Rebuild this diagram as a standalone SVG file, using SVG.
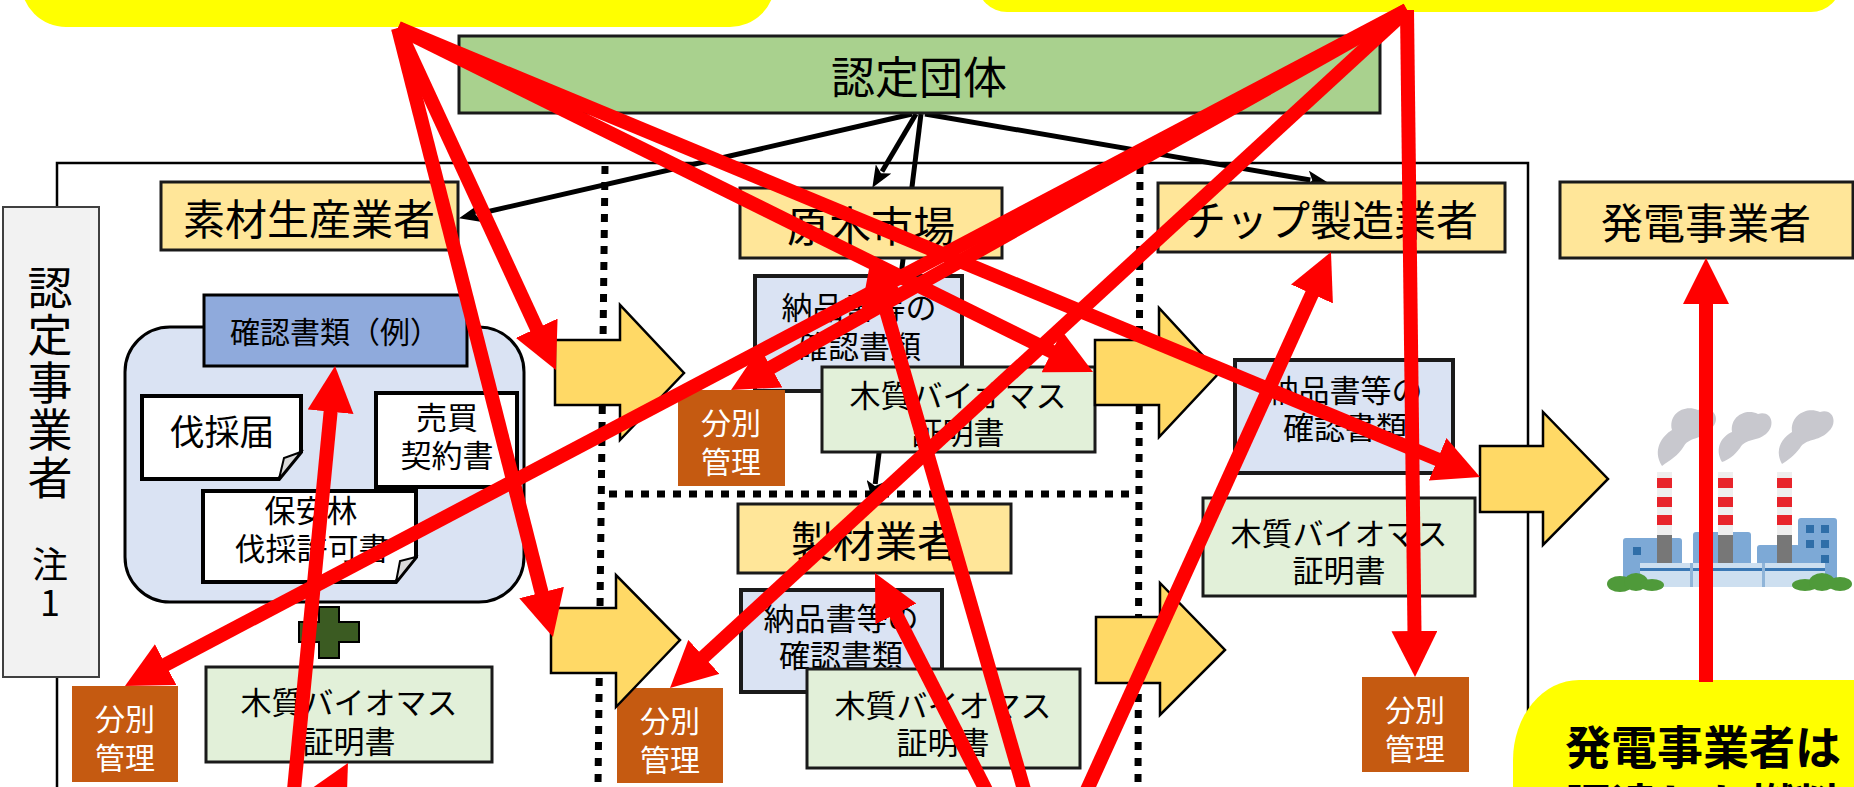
<svg xmlns="http://www.w3.org/2000/svg" width="1854" height="787" viewBox="0 0 1854 787">
  <defs>
    <style>
      text { font-family: "Noto Sans CJK JP", "Noto Sans", sans-serif; fill: #000; text-anchor: middle; dominant-baseline: central; }
      .vert { writing-mode: vertical-rl; text-orientation: upright; }
      .actor { fill: #ffe699; stroke: #1a1a1a; stroke-width: 3; }
      .doc { fill: #dae3f3; stroke: #1a1a1a; stroke-width: 4; }
      .cert { fill: #e2f0d9; stroke: #1a1a1a; stroke-width: 3; }
      .paper { fill: #ffffff; stroke: #000; stroke-width: 4; }
      .fold { fill: #d9d9d9; stroke: #000; stroke-width: 2; }
      .sep { fill: #c55a11; }
      .sep-t { fill: #ffffff; font-size: 30px; }
      .flow { fill: #ffd966; stroke: #000; stroke-width: 2.5; }
      .callout { fill: #ffff00; }
      .dots { stroke: #000; stroke-width: 7; stroke-dasharray: 8 8; fill: none; }
      .link { stroke: #000; stroke-width: 5; fill: none; marker-end: url(#blackHead); }
      .hl { stroke: #ff0000; stroke-width: 14; fill: none; marker-end: url(#redHead); }
      .t42 { font-size: 42px; }
      .t31 { font-size: 31px; }
    </style>
    <marker id="redHead" viewBox="0 0 46 46" markerUnits="userSpaceOnUse" markerWidth="46" markerHeight="46" refX="2" refY="23" orient="auto">
      <path d="M0,0 L46,23 L0,46 Z" fill="#ff0000"/>
    </marker>
    <marker id="blackHead" viewBox="0 0 22 18" markerUnits="userSpaceOnUse" markerWidth="22" markerHeight="18" refX="3" refY="9" orient="auto">
      <path d="M0,0 L22,9 L0,18 L5,9 Z" fill="#000"/>
    </marker>
  </defs>

  <rect width="1854" height="787" fill="#ffffff"/>

  <!-- callout balloons -->
  <g id="callout-left">
    <rect class="callout" x="21" y="-120" width="754" height="147" rx="45" ry="45"/>
  </g>
  <g id="callout-right">
    <rect class="callout" x="977" y="-120" width="864" height="132" rx="30" ry="30"/>
  </g>

  <!-- certified operators frame and separators -->
  <g id="frame">
    <rect x="57" y="163" width="1471" height="640" fill="none" stroke="#000" stroke-width="2.5"/>
    <line class="dots" x1="605" y1="166" x2="598" y2="786"/>
    <line class="dots" x1="1140" y1="166" x2="1138" y2="786"/>
    <line class="dots" x1="609" y1="494" x2="1136" y2="494"/>
  </g>

  <!-- certification body links -->
  <g id="links">
    <line class="link" x1="912" y1="114" x2="477.5" y2="214"/>
    <line class="link" x1="916" y1="114" x2="882" y2="171.5"/>
    <line class="link" x1="921" y1="114" x2="875.2" y2="484"/>
    <line class="link" x1="925" y1="114" x2="1310.3" y2="180"/>
  </g>

  <g id="node-body">
    <rect x="459" y="36" width="921" height="77" fill="#a9d18e" stroke="#1a1a1a" stroke-width="3"/>
    <text x="919" y="75" style="font-size:44px">認定団体</text>
  </g>

  <g id="node-operator-label">
    <rect x="3" y="207" width="96" height="470" fill="#f2f2f2" stroke="#404040" stroke-width="2"/>
    <text class="vert" x="50" y="384" style="font-size:45px;letter-spacing:2.5px">認定事業者</text>
    <text class="vert" x="50" y="584" style="font-size:36px;letter-spacing:2px">注1</text>
  </g>

  <g id="node-producer">
    <rect class="actor" x="161" y="182" width="297" height="68"/>
    <text class="t42" x="309" y="216">素材生産業者</text>
  </g>
  <g id="node-market">
    <rect class="actor" x="740" y="188" width="262" height="70"/>
    <text class="t42" x="871" y="223">原木市場</text>
  </g>
  <g id="node-chip">
    <rect class="actor" x="1158" y="183" width="347" height="69"/>
    <text class="t42" x="1331" y="217">チップ製造業者</text>
  </g>
  <g id="node-power">
    <rect class="actor" x="1560" y="182" width="293" height="76"/>
    <text class="t42" x="1706" y="220">発電事業者</text>
  </g>
  <g id="node-sawmill">
    <rect class="actor" x="738" y="504" width="273" height="69"/>
    <text class="t42" x="875" y="538">製材業者</text>
  </g>

  <!-- documents held by the log producer -->
  <g id="node-docs">
    <rect x="125" y="327" width="399" height="275" rx="45" ry="45" fill="#dae3f3" stroke="#000" stroke-width="3"/>
    <rect x="204" y="295" width="263" height="71" fill="#8faadc" stroke="#000" stroke-width="3"/>
    <text x="335" y="330" style="font-size:30px">確認書類（例）</text>
  </g>
  <g id="node-notice">
    <path class="paper" d="M142,396 H301 V452 L279,479 H142 Z"/>
    <path class="fold" d="M301,452 L279,479 L284,458 Z"/>
    <text x="222" y="429" style="font-size:35px">伐採届</text>
  </g>
  <g id="node-contract">
    <rect class="paper" x="376" y="393" width="141" height="94"/>
    <text style="font-size:31px"><tspan x="447" y="415">売買</tspan><tspan x="447" y="453">契約書</tspan></text>
  </g>
  <g id="node-permit">
    <path class="paper" d="M203,491 H416 V557 L396,582 H203 Z"/>
    <path class="fold" d="M416,557 L396,582 L400,561 Z"/>
    <text style="font-size:31px"><tspan x="311" y="508">保安林</tspan><tspan x="312" y="546">伐採許可書</tspan></text>
  </g>
  <g id="node-plus">
    <path d="M319,607 H339 V622 H359 V642 H339 V658 H319 V642 H299 V622 H319 Z" fill="#3b5b22" stroke="#000" stroke-width="2"/>
  </g>
  <g id="node-cert-1">
    <rect class="cert" x="206" y="667" width="286" height="95"/>
    <text class="t31"><tspan x="349" y="700">木質バイオマス</tspan><tspan x="349" y="739">証明書</tspan></text>
  </g>

  <!-- log market documents -->
  <g id="node-delivery-1">
    <rect class="doc" x="755" y="276" width="207" height="115"/>
    <text class="t31"><tspan x="859" y="305">納品書等の</tspan><tspan x="859" y="344">確認書類</tspan></text>
  </g>
  <g id="node-cert-2">
    <rect class="cert" x="822" y="367" width="273" height="85"/>
    <text class="t31"><tspan x="958" y="393">木質バイオマス</tspan><tspan x="958" y="430">証明書</tspan></text>
  </g>

  <!-- sawmill documents -->
  <g id="node-delivery-2">
    <rect class="doc" x="741" y="590" width="201" height="102"/>
    <text class="t31"><tspan x="841" y="616">納品書等の</tspan><tspan x="841" y="653">確認書類</tspan></text>
  </g>
  <g id="node-cert-3">
    <rect class="cert" x="807" y="669" width="273" height="99"/>
    <text class="t31"><tspan x="943" y="703">木質バイオマス</tspan><tspan x="943" y="740">証明書</tspan></text>
  </g>

  <!-- chip maker documents -->
  <g id="node-delivery-3">
    <rect class="doc" x="1235" y="360" width="218" height="113"/>
    <text class="t31"><tspan x="1345" y="388">納品書等の</tspan><tspan x="1345" y="425">確認書類</tspan></text>
  </g>
  <g id="node-cert-4">
    <rect class="cert" x="1203" y="498" width="272" height="98"/>
    <text class="t31"><tspan x="1339" y="531">木質バイオマス</tspan><tspan x="1339" y="568">証明書</tspan></text>
  </g>

  <!-- segregated management tags -->
  <g id="node-sep-1">
    <rect class="sep" x="72" y="686" width="106" height="96"/>
    <text class="sep-t"><tspan x="125" y="717">分別</tspan><tspan x="125" y="756">管理</tspan></text>
  </g>
  <g id="node-sep-2">
    <rect class="sep" x="678" y="390" width="107" height="96"/>
    <text class="sep-t"><tspan x="731" y="421">分別</tspan><tspan x="731" y="460">管理</tspan></text>
  </g>
  <g id="node-sep-3">
    <rect class="sep" x="617" y="688" width="106" height="95"/>
    <text class="sep-t"><tspan x="670" y="719">分別</tspan><tspan x="670" y="758">管理</tspan></text>
  </g>
  <g id="node-sep-4">
    <rect class="sep" x="1362" y="677" width="107" height="95"/>
    <text class="sep-t"><tspan x="1415" y="708">分別</tspan><tspan x="1415" y="747">管理</tspan></text>
  </g>

  <!-- material flow arrows -->
  <g id="flows">
    <polygon class="flow" points="555,340 620,340 620,305 684,373 620,440 620,405 555,405"/>
    <polygon class="flow" points="551,608 616,608 616,575 680,640 616,707 616,673 551,673"/>
    <polygon class="flow" points="1095,340 1159,340 1159,308 1219,373 1159,437 1159,405 1095,405"/>
    <polygon class="flow" points="1096,617 1160,617 1160,583 1225,650 1160,715 1160,683 1096,683"/>
    <polygon class="flow" points="1480,446 1543,446 1543,412 1608,479 1543,545 1543,512 1480,512"/>
  </g>

  <!-- power plant -->
  <g id="node-plant">
    <g fill="#c8c8ce">
      <path d="M1662,466 C1652,450 1662,436 1672,430 C1668,414 1684,404 1698,410 C1712,404 1722,418 1712,428 C1704,440 1690,436 1684,446 C1678,456 1670,460 1662,466 Z"/>
      <path d="M1722,462 C1714,448 1722,436 1732,432 C1730,416 1746,408 1758,414 C1772,410 1776,426 1766,434 C1756,442 1746,438 1740,448 C1734,456 1728,460 1722,462 Z"/>
      <path d="M1782,464 C1774,450 1782,438 1792,432 C1790,416 1806,406 1820,412 C1834,408 1838,424 1828,432 C1818,442 1806,438 1800,448 C1794,456 1788,460 1782,464 Z"/>
    </g>
    <g fill="#7da9d6">
      <rect x="1623" y="538" width="59" height="49" rx="3"/>
      <rect x="1693" y="532" width="58" height="55" rx="3"/>
      <rect x="1757" y="545" width="43" height="42" rx="3"/>
      <rect x="1798" y="518" width="39" height="69" rx="3"/>
    </g>
    <g fill="#2f6ea8">
      <rect x="1633" y="547" width="8" height="8"/>
      <rect x="1806" y="525" width="8" height="8"/>
      <rect x="1821" y="525" width="8" height="8"/>
      <rect x="1806" y="540" width="8" height="8"/>
      <rect x="1821" y="540" width="8" height="8"/>
      <rect x="1821" y="555" width="8" height="8"/>
    </g>
    <g>
      <rect x="1657" y="472" width="15" height="63" fill="#eeeeee"/>
      <rect x="1718" y="472" width="15" height="63" fill="#eeeeee"/>
      <rect x="1777" y="472" width="15" height="63" fill="#eeeeee"/>
      <g fill="#e8242b">
        <rect x="1657" y="478" width="15" height="10"/><rect x="1657" y="497" width="15" height="10"/><rect x="1657" y="515" width="15" height="10"/>
        <rect x="1718" y="478" width="15" height="10"/><rect x="1718" y="497" width="15" height="10"/><rect x="1718" y="515" width="15" height="10"/>
        <rect x="1777" y="478" width="15" height="10"/><rect x="1777" y="497" width="15" height="10"/><rect x="1777" y="515" width="15" height="10"/>
      </g>
      <g fill="#777777">
        <rect x="1657" y="535" width="15" height="28"/>
        <rect x="1718" y="535" width="15" height="28"/>
        <rect x="1777" y="535" width="15" height="28"/>
      </g>
    </g>
    <rect x="1640" y="563" width="185" height="24" fill="#cddff0"/>
    <rect x="1640" y="568" width="185" height="3" fill="#3a78b5"/>
    <rect x="1690" y="563" width="3" height="24" fill="#8fb4d8"/>
    <rect x="1762" y="563" width="3" height="24" fill="#8fb4d8"/>
    <g fill="#4f9a3a">
      <ellipse cx="1620" cy="584" rx="13" ry="8"/>
      <ellipse cx="1636" cy="582" rx="12" ry="9"/>
      <ellipse cx="1652" cy="585" rx="12" ry="6"/>
      <ellipse cx="1805" cy="585" rx="13" ry="6"/>
      <ellipse cx="1822" cy="582" rx="13" ry="9"/>
      <ellipse cx="1840" cy="584" rx="12" ry="7"/>
    </g>
  </g>

  <g id="callout-bottom">
    <rect class="callout" x="1513" y="680" width="420" height="200" rx="66" ry="80"/>
    <text style="font-size:46px;font-weight:bold"><tspan x="1703" y="744">発電事業者は</tspan><tspan x="1703" y="802">調達した燃料</tspan></text>
  </g>

  <!-- highlight arrows -->
  <g id="highlight-arrows">
    <line class="hl" x1="398" y1="28" x2="537.5" y2="330.1"/>
    <line class="hl" x1="398" y1="28" x2="542.1" y2="594.4"/>
    <line class="hl" x1="398" y1="28" x2="1053.6" y2="352.5"/>
    <line class="hl" x1="398" y1="28" x2="1439.4" y2="460.1"/>
    <line class="hl" x1="1407" y1="10" x2="769.4" y2="368.4"/>
    <line class="hl" x1="1407" y1="10" x2="163.9" y2="665.5"/>
    <line class="hl" x1="1407" y1="10" x2="702.4" y2="658.2"/>
    <line class="hl" x1="1407" y1="10" x2="1414.5" y2="633"/>
    <line class="hl" x1="293" y1="800" x2="330.8" y2="409.8"/>
    <line class="hl" x1="290" y1="870" x2="327" y2="801.7"/>
    <line class="hl" x1="991" y1="800" x2="895" y2="612.2"/>
    <line class="hl" x1="1027" y1="800" x2="883.2" y2="300.3"/>
    <line class="hl" x1="1087" y1="790" x2="1312.8" y2="292.1"/>
    <line class="hl" x1="1706" y1="682" x2="1706" y2="302"/>
  </g>
</svg>
